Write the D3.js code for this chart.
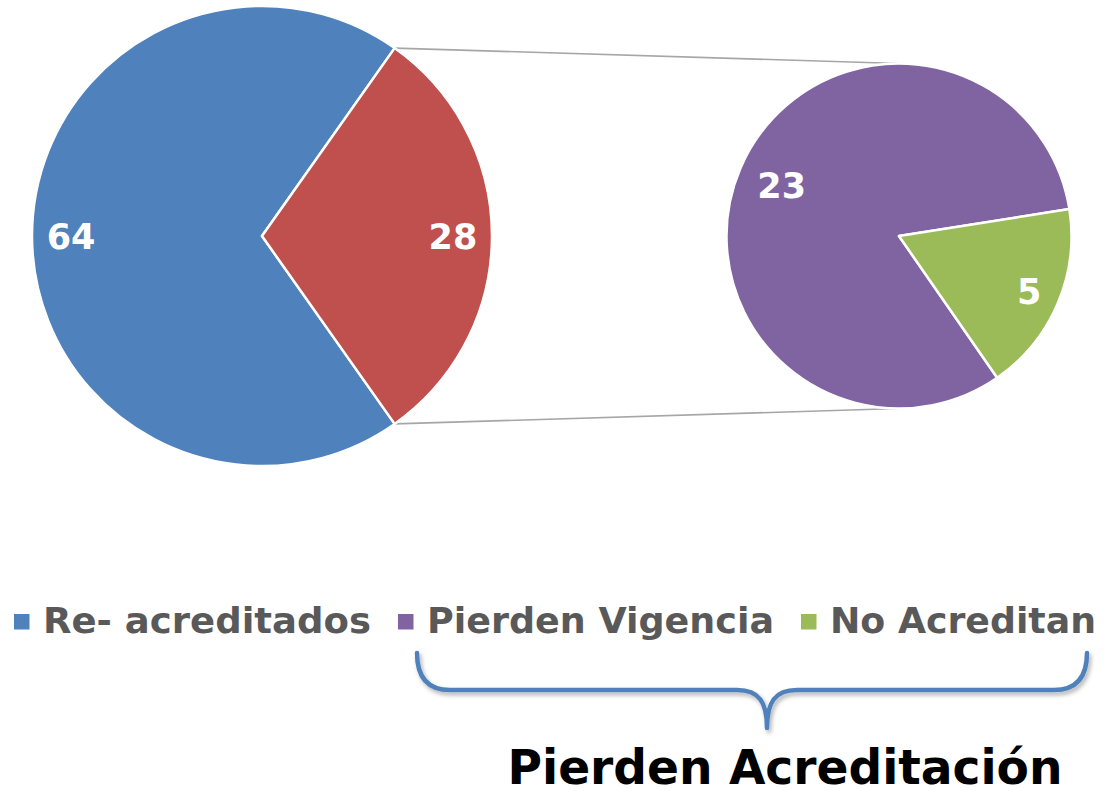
<!DOCTYPE html>
<html>
<head>
<meta charset="utf-8">
<script src="https://cdn.jsdelivr.net/npm/d3@7"></script>
<style>
  body { margin: 0; background: #fff; }
  text { font-family: "DejaVu Sans", Verdana, sans-serif; font-weight: bold; }
</style>
</head>
<body>
<svg id="chart"></svg>
<script>
// data
const mainLabels = ["Re- acreditados", "Pierden Acreditación"];
const mainValues = [64, 28];
const subLabels = ["Pierden Vigencia", "No Acreditan"];
const subValues = [23, 5];
const legendLabels = ["Re- acreditados", "Pierden Vigencia", "No Acreditan"];
const bracketTitle = "Pierden Acreditación";

const width = 1112;
const height = 791;
const colors = { blue: "#4f81bd", red: "#c0504d", purple: "#8064a2", green: "#9bbb59" };
const mainColors = [colors.blue, colors.red];
const subColors = [colors.purple, colors.green];
const legendColors = [colors.blue, colors.purple, colors.green];
// label distance from centre, as share of radius (Excel places them a bit unevenly)
const mainLabelPos = [0.83, 0.83];
const subLabelPos = [0.74, 0.82];
// legend text widths (Verdana is wider than DejaVu)
const legendTextW = [328, 347, 266];

const svg = d3.select("#chart")
    .attr("width", width)
    .attr("height", height);

const deg = Math.PI / 180;

const mainC = { x: 262, y: 236 }, mainR = 230;
const subC = { x: 899, y: 236 }, subR = 172.5;

const total = d3.sum(mainValues);
const splitSpan = mainValues[1] / total * 2 * Math.PI;
// split slice centred on the right side
const mainStart = Math.PI / 2 + splitSpan / 2;

const mainPie = d3.pie().sort(null)
    .startAngle(mainStart)
    .endAngle(mainStart + 2 * Math.PI);
const mainArcs = mainPie(mainValues);

const subPie = d3.pie().sort(null)
    .startAngle(145.3 * deg)
    .endAngle(145.3 * deg + 2 * Math.PI);
const subArcs = subPie(subValues);

// connector lines
const redArc = mainArcs[1];
const p1 = [mainC.x + mainR * Math.sin(redArc.startAngle), mainC.y - mainR * Math.cos(redArc.startAngle)];
const p2 = [mainC.x + mainR * Math.sin(redArc.endAngle), mainC.y - mainR * Math.cos(redArc.endAngle)];
svg.append("line")
    .attr("x1", p1[0]).attr("y1", p1[1])
    .attr("x2", subC.x).attr("y2", subC.y - subR)
    .attr("stroke", "#a6a6a6").attr("stroke-width", 1.6);
svg.append("line")
    .attr("x1", p2[0]).attr("y1", p2[1])
    .attr("x2", subC.x).attr("y2", subC.y + subR)
    .attr("stroke", "#a6a6a6").attr("stroke-width", 1.6);

// main pie
const mainG = svg.append("g").attr("transform", `translate(${mainC.x},${mainC.y})`);
const mainArc = d3.arc().innerRadius(0).outerRadius(mainR);
mainG.selectAll("path")
    .data(mainArcs)
    .enter().append("path")
    .attr("d", mainArc)
    .attr("fill", (d, i) => mainColors[i])
    .attr("stroke", "#fff")
    .attr("stroke-width", 2.5)
    .attr("stroke-linejoin", "round");

mainG.selectAll("text")
    .data(mainArcs)
    .enter().append("text")
    .attr("transform", (d, i) => {
        const r = mainR * mainLabelPos[i];
        return `translate(${d3.arc().innerRadius(r).outerRadius(r).centroid(d)})`;
    })
    .attr("text-anchor", "middle")
    .attr("dy", "0.36em")
    .attr("fill", "#fff")
    .style("font-size", "35px")
    .text(d => d.data);

// secondary pie
const subG = svg.append("g").attr("transform", `translate(${subC.x},${subC.y})`);
const subArc = d3.arc().innerRadius(0).outerRadius(subR);
subG.selectAll("path")
    .data(subArcs)
    .enter().append("path")
    .attr("d", subArc)
    .attr("fill", (d, i) => subColors[i])
    .attr("stroke", "#fff")
    .attr("stroke-width", 2.5)
    .attr("stroke-linejoin", "round");

subG.selectAll("text")
    .data(subArcs)
    .enter().append("text")
    .attr("transform", (d, i) => {
        const r = subR * subLabelPos[i];
        return `translate(${d3.arc().innerRadius(r).outerRadius(r).centroid(d)})`;
    })
    .attr("text-anchor", "middle")
    .attr("dy", "0.36em")
    .attr("fill", "#fff")
    .style("font-size", "35px")
    .text(d => d.data);

// legend
const legend = svg.append("g").attr("transform", "translate(14,633)");
let lx = 0;
legendLabels.forEach((name, i) => {
    const item = legend.append("g").attr("transform", `translate(${lx},0)`);
    item.append("rect")
        .attr("x", 0).attr("y", -19)
        .attr("width", 15.5).attr("height", 15.5)
        .attr("fill", legendColors[i]);
    item.append("text")
        .attr("x", 29)
        .attr("fill", "#595959")
        .attr("textLength", legendTextW[i])
        .attr("lengthAdjust", "spacingAndGlyphs")
        .style("font-size", "36px")
        .text(name);
    lx += 29 + legendTextW[i] + 27;
});

// bracket under the two lost categories
const defs = svg.append("defs");
const f = defs.append("filter").attr("id", "shadow")
    .attr("x", "-10%").attr("y", "-30%").attr("width", "120%").attr("height", "160%");
f.append("feDropShadow").attr("dx", 2).attr("dy", 3).attr("stdDeviation", 2)
    .attr("flood-color", "#000").attr("flood-opacity", 0.3);

const bx0 = 417, bx1 = 1087, btop = 653, bmid = 690, tipX = 767, tipY = 728, rr = 33, tw = 30;
const brace = d3.path();
brace.moveTo(bx0, btop);
brace.quadraticCurveTo(bx0, bmid, bx0 + rr, bmid);
brace.lineTo(tipX - tw, bmid);
brace.bezierCurveTo(tipX - 8, bmid, tipX, bmid + 12, tipX, tipY);
brace.bezierCurveTo(tipX, bmid + 12, tipX + 8, bmid, tipX + tw, bmid);
brace.lineTo(bx1 - rr, bmid);
brace.quadraticCurveTo(bx1, bmid, bx1, btop);
svg.append("path")
    .attr("d", brace.toString())
    .attr("fill", "none")
    .attr("stroke", colors.blue)
    .attr("stroke-width", 4.5)
    .attr("stroke-linecap", "round")
    .attr("stroke-linejoin", "round")
    .attr("filter", "url(#shadow)");

svg.append("text")
    .attr("x", 785)
    .attr("y", 784)
    .attr("text-anchor", "middle")
    .attr("fill", "#000")
    .attr("textLength", 555)
    .attr("lengthAdjust", "spacingAndGlyphs")
    .style("font-size", "48px")
    .text(bracketTitle);
</script>
</body>
</html>
